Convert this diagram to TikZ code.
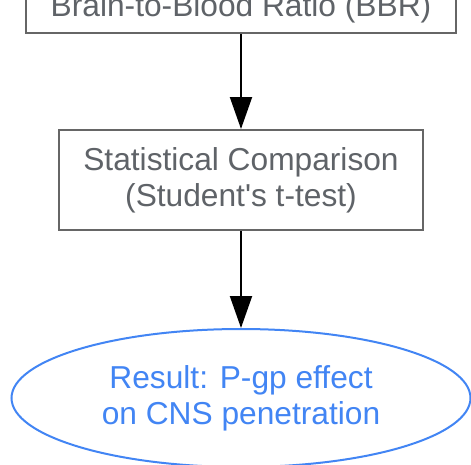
\documentclass[tikz,border=0pt]{standalone}
\usepackage{fontspec}
\setmainfont{Liberation Sans}
\usetikzlibrary{shapes.geometric, arrows.meta}

\definecolor{boxgray}{HTML}{666666}
\definecolor{textgray}{HTML}{5F6368}
\definecolor{resblue}{HTML}{4285F4}

\tikzset{
    labelfont/.style = {align = center, font = \fontsize{31.7}{36}\selectfont, inner sep = 0pt,
        execute at begin node = {\rule{0pt}{31pt}}},
    stepbox/.style = {labelfont, draw = boxgray, line width = 2pt, fill = white, text = textgray},
    result/.style = {labelfont, ellipse, draw = resblue, line width = 2pt, fill = white, text = resblue},
    flow/.style = {line width = 2pt, -{Triangle[length = 32pt, width = 22pt]}}
}

\begin{document}
\begin{tikzpicture}[x=1pt, y=-1pt]
    \useasboundingbox (0,0) rectangle (471,464);
    \clip (0,0) rectangle (471,464);

    % steps
    \node[stepbox, minimum width = 430pt, minimum height = 58pt, anchor = south] (bbr) at (241,34) {Brain-to-Blood Ratio (BBR)};
    \node[stepbox, minimum width = 364pt, minimum height = 100pt, anchor = center] (stats) at (241,180) {Statistical Comparison\\(Student\textquotesingle s t-test)};
    \node[result, minimum width = 459pt, minimum height = 138pt, anchor = center] (res) at (241,398) {Result: P-gp effect\\on CNS penetration};

    % arrows
    \draw[flow] (bbr) -- (stats);
    \draw[flow] (stats) -- (res);
\end{tikzpicture}
\end{document}
